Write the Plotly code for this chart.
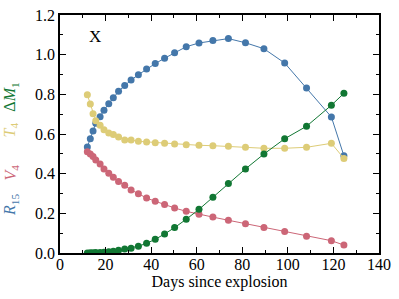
import plotly.graph_objects as go

days = [12.0, 13.3, 14.5, 15.7, 17.6, 19.3, 21.4, 23.4, 25.7, 28.4, 31.2, 34.4, 38.0, 41.8,
        45.9, 50.3, 55.4, 61.0, 67.1, 73.9, 81.4, 89.5, 98.6, 108.2, 119.1, 124.6]
R15 = [0.535, 0.576, 0.615, 0.654, 0.687, 0.720, 0.753, 0.783, 0.815, 0.844, 0.872, 0.899, 0.928,
       0.955, 0.982, 1.010, 1.040, 1.059, 1.071, 1.081, 1.060, 1.030, 0.958, 0.832, 0.686, 0.490]
T4 = [0.798, 0.751, 0.702, 0.667, 0.644, 0.622, 0.605, 0.597, 0.585, 0.570, 0.570, 0.563, 0.560,
      0.556, 0.553, 0.550, 0.546, 0.543, 0.541, 0.538, 0.533, 0.528, 0.528, 0.533, 0.553, 0.477]
V4 = [0.511, 0.499, 0.486, 0.469, 0.449, 0.424, 0.402, 0.382, 0.361, 0.341, 0.318, 0.299, 0.277,
      0.261, 0.244, 0.227, 0.210, 0.195, 0.181, 0.165, 0.148, 0.128, 0.109, 0.084, 0.062, 0.040]
dM1 = [0.000, 0.001, 0.001, 0.002, 0.003, 0.004, 0.006, 0.009, 0.014, 0.020, 0.024, 0.034, 0.049,
       0.069, 0.096, 0.128, 0.170, 0.220, 0.281, 0.350, 0.424, 0.499, 0.576, 0.639, 0.745, 0.805]

BLUE, RED, YELLOW, GREEN = "#4477AA", "#CC6677", "#DDCC77", "#117733"
FONT = "Liberation Serif, Times New Roman, serif"

fig = go.Figure()
for vals, col in [(R15, BLUE), (T4, YELLOW), (V4, RED), (dM1, GREEN)]:
    fig.add_trace(go.Scatter(x=days, y=vals, mode="lines+markers",
                             line=dict(color=col, width=1),
                             marker=dict(color=col, size=7),
                             showlegend=False))

tickfont = dict(family=FONT, size=16, color="black")
axis_common = dict(showline=True, linecolor="black", linewidth=1.5, mirror="ticks",
                   ticks="inside", ticklen=6, tickwidth=1, tickcolor="black",
                   showgrid=False, zeroline=False, automargin=False,
                   tickfont=tickfont)
fig.update_xaxes(range=[0, 140], dtick=20, tick0=0, ticklabelstandoff=-4,
                 minor=dict(dtick=10, ticks="inside", ticklen=3, tickcolor="black"),
                 title=dict(text="Days since explosion", font=tickfont, standoff=0),
                 **axis_common)
fig.update_yaxes(range=[0, 1.2], dtick=0.2, tick0=0, tickformat=".1f",
                 minor=dict(dtick=0.1, ticks="inside", ticklen=3, tickcolor="black"),
                 **axis_common)

labels = [("<i>R</i><sub>15</sub>", BLUE, 0.20), ("<i>V</i><sub>4</sub>", RED, 0.336),
          ("<i>T</i><sub>4</sub>", YELLOW, 0.517), ("Δ<i>M</i><sub>1</sub>", GREEN, 0.655)]
for txt, col, yp in labels:
    fig.add_annotation(text=txt, xref="paper", yref="paper", x=-0.155, y=yp,
                       textangle=-90, showarrow=False, xanchor="center", yanchor="middle",
                       font=dict(family=FONT, size=16, color=col))

fig.add_annotation(text="X", x=15.5, y=1.09, xref="x", yref="y", showarrow=False,
                   font=dict(family=FONT, size=17, color="black"))

fig.update_layout(width=399, height=299, margin=dict(l=60, r=20, t=15, b=46, autoexpand=False),
                  plot_bgcolor="white", paper_bgcolor="white",
                  font=dict(family=FONT, size=16, color="black"))
fig.write_html("out.html", config={"displayModeBar": False},
               post_script="document.body.style.margin='0';")
